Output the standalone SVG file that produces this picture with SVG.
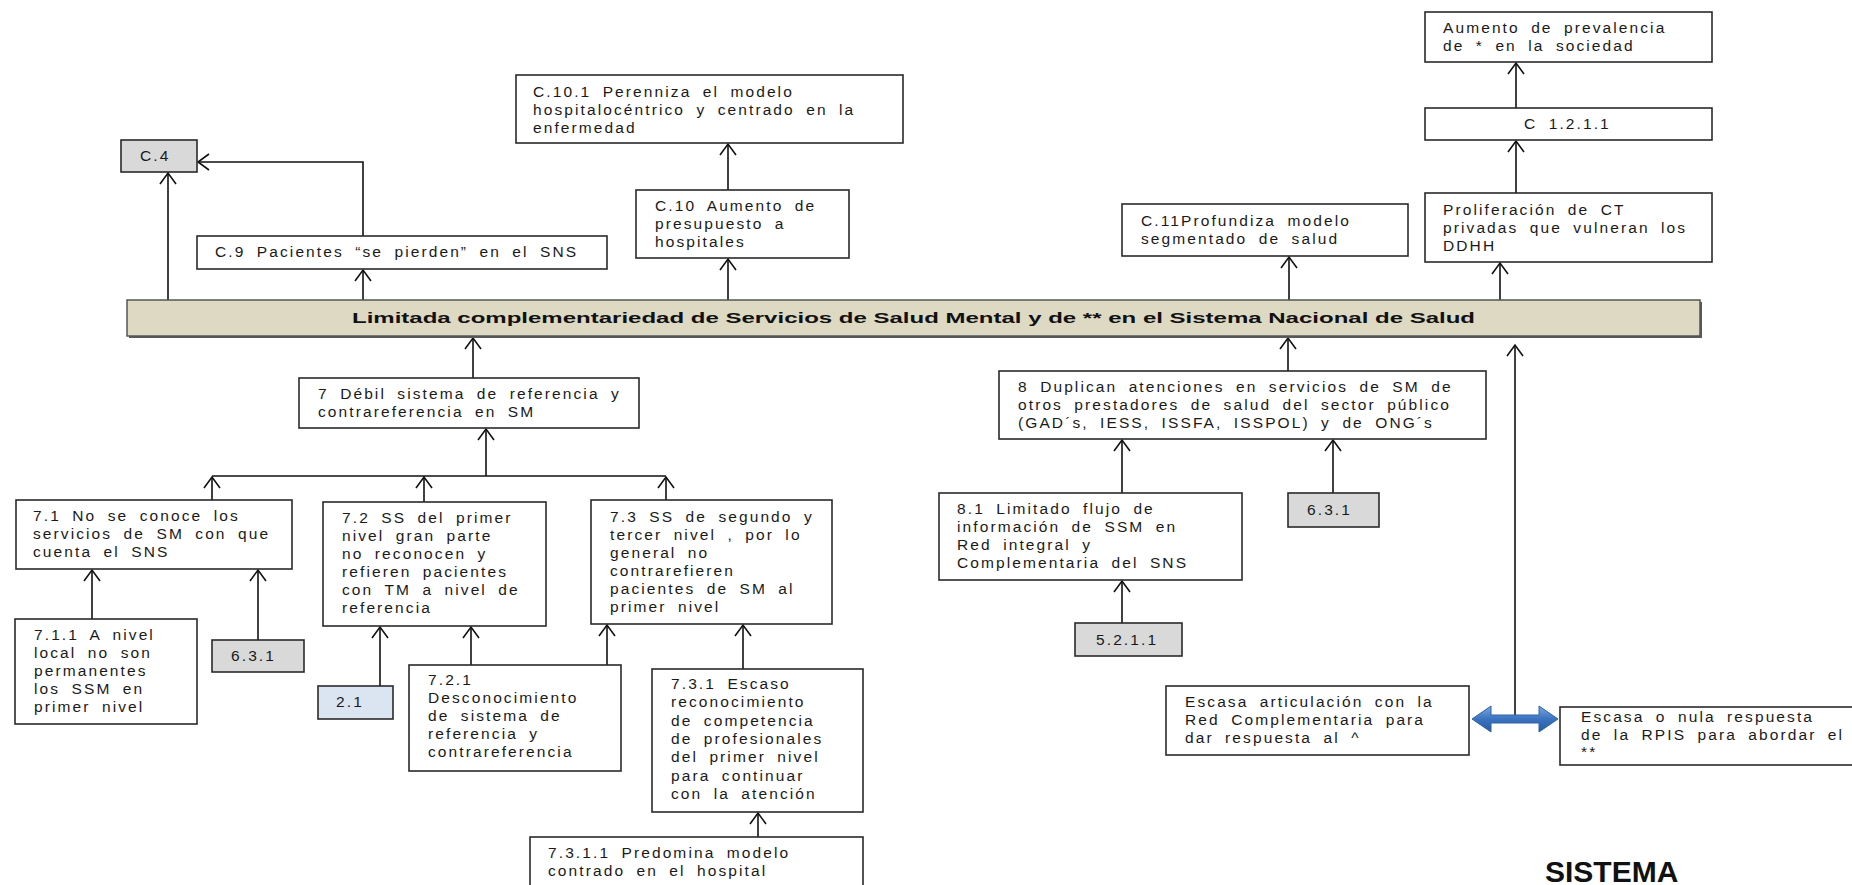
<svg xmlns="http://www.w3.org/2000/svg" width="1852" height="885" viewBox="0 0 1852 885">
<style>
.t{font-family:"Liberation Sans",Arial,sans-serif;font-size:15.5px;letter-spacing:2.1px;word-spacing:5px;fill:#1a1a1a}
.b{fill:#fff;stroke:#2a2a2a;stroke-width:1.6}
.g{fill:#d9d9d9;stroke:#2a2a2a;stroke-width:1.6}
.lb{fill:#dbe5f1;stroke:#2a2a2a;stroke-width:1.6}
.c{fill:none;stroke:#111;stroke-width:1.6}
.a{marker-end:url(#ah)}
</style>
<defs>
<marker id="ah" viewBox="-13 -10 15 20" markerWidth="15" markerHeight="20" refX="0" refY="0" orient="auto" markerUnits="userSpaceOnUse">
<path d="M-11,-8 L0,0 L-11,8" fill="none" stroke="#111" stroke-width="1.6"/>
</marker>
<linearGradient id="bl" x1="0" y1="0" x2="0" y2="1">
<stop offset="0" stop-color="#7aa7de"/>
<stop offset="0.5" stop-color="#3b73c0"/>
<stop offset="1" stop-color="#2a5a9e"/>
</linearGradient>
</defs>
<rect x="0" y="0" width="1852" height="885" fill="#fff"/>

<g id="connectors">
<path class="c a" d="M168,300 L168,173"/>
<path class="c a" d="M363,236 L363,162 L198,162"/>
<path class="c a" d="M363,300 L363,270"/>
<path class="c a" d="M728,300 L728,259"/>
<path class="c a" d="M728,190 L728,144"/>
<path class="c a" d="M1289,300 L1289,257"/>
<path class="c a" d="M1500,300 L1500,263"/>
<path class="c a" d="M1516,193 L1516,141"/>
<path class="c a" d="M1516,108 L1516,63"/>
<path class="c a" d="M473,378 L473,338"/>
<path class="c" d="M212,476 L666,476"/>
<path class="c a" d="M486,476 L486,429"/>
<path class="c a" d="M212,500 L212,477"/>
<path class="c a" d="M424,502 L424,477"/>
<path class="c a" d="M666,500 L666,477"/>
<path class="c a" d="M92,619 L92,570"/>
<path class="c a" d="M258,640 L258,570"/>
<path class="c a" d="M380,686 L380,627"/>
<path class="c a" d="M471,665 L471,627"/>
<path class="c a" d="M607,665 L607,625"/>
<path class="c a" d="M743,669 L743,625"/>
<path class="c a" d="M758,837 L758,813"/>
<path class="c a" d="M1288,371 L1288,338"/>
<path class="c a" d="M1122,493 L1122,440"/>
<path class="c a" d="M1333,493 L1333,440"/>
<path class="c a" d="M1122,623 L1122,581"/>
<path class="c a" d="M1515,718 L1515,345"/>
<path d="M1472,719 L1491,706 L1491,715 L1539,715 L1539,706 L1558,719 L1539,732 L1539,723 L1491,723 L1491,732 Z" fill="url(#bl)" stroke="#2f62a8" stroke-width="1"/>
</g>

<g id="n-banner">
<rect x="129" y="302" width="1573" height="36" fill="#5a5a5a"/>
<rect x="127" y="300" width="1573" height="36" fill="#ddd9c3" stroke="#555" stroke-width="1.5"/>
<text x="913.5" y="323" text-anchor="middle" textLength="1123" lengthAdjust="spacingAndGlyphs" style="font-family:'Liberation Sans',Arial,sans-serif;font-size:15.5px;font-weight:bold;fill:#111">Limitada complementariedad de Servicios de Salud Mental y de ** en el Sistema Nacional de Salud</text>
</g>

<g id="n-c4">
<rect class="g" x="121" y="140" width="76" height="32"/>
<text class="t" x="140" y="161">C.4</text>
</g>

<g id="n-c9">
<rect class="b" x="197" y="236" width="410" height="33"/>
<text class="t" x="215" y="257">C.9 Pacientes “se pierden” en el SNS</text>
</g>

<g id="n-c101">
<rect class="b" x="516" y="75" width="387" height="68"/>
<text class="t" x="533" y="97"><tspan x="533">C.10.1 Perenniza el modelo</tspan><tspan x="533" dy="18">hospitalocéntrico y centrado en la</tspan><tspan x="533" dy="18">enfermedad</tspan></text>
</g>

<g id="n-c10">
<rect class="b" x="636" y="190" width="213" height="68"/>
<text class="t" x="655" y="211"><tspan x="655">C.10 Aumento de</tspan><tspan x="655" dy="18">presupuesto a</tspan><tspan x="655" dy="18">hospitales</tspan></text>
</g>

<g id="n-c11">
<rect class="b" x="1122" y="204" width="286" height="52"/>
<text class="t" x="1141" y="226"><tspan x="1141">C.11Profundiza modelo</tspan><tspan x="1141" dy="18">segmentado de salud</tspan></text>
</g>

<g id="n-aumento">
<rect class="b" x="1425" y="12" width="287" height="50"/>
<text class="t" x="1443" y="33"><tspan x="1443">Aumento de prevalencia</tspan><tspan x="1443" dy="18">de * en la sociedad</tspan></text>
</g>

<g id="n-c1211">
<rect class="b" x="1425" y="108" width="287" height="32"/>
<text class="t" x="1524" y="129">C 1.2.1.1</text>
</g>

<g id="n-prolif">
<rect class="b" x="1425" y="193" width="287" height="69"/>
<text class="t" x="1443" y="215"><tspan x="1443">Proliferación de CT</tspan><tspan x="1443" dy="18">privadas que vulneran los</tspan><tspan x="1443" dy="18">DDHH</tspan></text>
</g>

<g id="n-7">
<rect class="b" x="299" y="378" width="340" height="50"/>
<text class="t" x="318" y="399"><tspan x="318">7 Débil sistema de referencia y</tspan><tspan x="318" dy="18">contrareferencia en SM</tspan></text>
</g>

<g id="n-71">
<rect class="b" x="16" y="500" width="276" height="69"/>
<text class="t" x="33" y="521"><tspan x="33">7.1 No se conoce los</tspan><tspan x="33" dy="18">servicios de SM con que</tspan><tspan x="33" dy="18">cuenta el SNS</tspan></text>
</g>

<g id="n-72">
<rect class="b" x="323" y="502" width="223" height="124"/>
<text class="t" x="342" y="523"><tspan x="342">7.2 SS del primer</tspan><tspan x="342" dy="18">nivel gran parte</tspan><tspan x="342" dy="18">no reconocen y</tspan><tspan x="342" dy="18">refieren pacientes</tspan><tspan x="342" dy="18">con TM a nivel de</tspan><tspan x="342" dy="18">referencia</tspan></text>
</g>

<g id="n-73">
<rect class="b" x="591" y="500" width="241" height="124"/>
<text class="t" x="610" y="522"><tspan x="610">7.3 SS de segundo y</tspan><tspan x="610" dy="18">tercer nivel , por lo</tspan><tspan x="610" dy="18">general no</tspan><tspan x="610" dy="18">contrarefieren</tspan><tspan x="610" dy="18">pacientes de SM al</tspan><tspan x="610" dy="18">primer nivel</tspan></text>
</g>

<g id="n-711">
<rect class="b" x="15" y="619" width="182" height="105"/>
<text class="t" x="34" y="640"><tspan x="34">7.1.1 A nivel</tspan><tspan x="34" dy="18">local no son</tspan><tspan x="34" dy="18">permanentes</tspan><tspan x="34" dy="18">los SSM en</tspan><tspan x="34" dy="18">primer nivel</tspan></text>
</g>

<g id="n-631a">
<rect class="g" x="212" y="640" width="92" height="32"/>
<text class="t" x="231" y="661">6.3.1</text>
</g>

<g id="n-21">
<rect class="lb" x="318" y="686" width="75" height="33"/>
<text class="t" x="336" y="707">2.1</text>
</g>

<g id="n-721">
<rect class="b" x="409" y="665" width="212" height="106"/>
<text class="t" x="428" y="685"><tspan x="428">7.2.1</tspan><tspan x="428" dy="18">Desconocimiento</tspan><tspan x="428" dy="18">de sistema de</tspan><tspan x="428" dy="18">referencia y</tspan><tspan x="428" dy="18">contrareferencia</tspan></text>
</g>

<g id="n-731">
<rect class="b" x="652" y="669" width="211" height="143"/>
<text class="t" x="671" y="689"><tspan x="671">7.3.1 Escaso</tspan><tspan x="671" dy="18.3">reconocimiento</tspan><tspan x="671" dy="18.3">de competencia</tspan><tspan x="671" dy="18.3">de profesionales</tspan><tspan x="671" dy="18.3">del primer nivel</tspan><tspan x="671" dy="18.3">para continuar</tspan><tspan x="671" dy="18.3">con la atención</tspan></text>
</g>

<g id="n-7311">
<rect class="b" x="530" y="837" width="333" height="60"/>
<text class="t" x="548" y="858"><tspan x="548">7.3.1.1 Predomina modelo</tspan><tspan x="548" dy="18">contrado en el hospital</tspan></text>
</g>

<g id="n-8">
<rect class="b" x="999" y="371" width="487" height="68"/>
<text class="t" x="1018" y="392"><tspan x="1018">8 Duplican atenciones en servicios de SM de</tspan><tspan x="1018" dy="18">otros prestadores de salud del sector público</tspan><tspan x="1018" dy="18">(GAD´s, IESS, ISSFA, ISSPOL) y de ONG´s</tspan></text>
</g>

<g id="n-81">
<rect class="b" x="939" y="493" width="303" height="87"/>
<text class="t" x="957" y="514"><tspan x="957">8.1 Limitado flujo de</tspan><tspan x="957" dy="18">información de SSM en</tspan><tspan x="957" dy="18">Red integral y</tspan><tspan x="957" dy="18">Complementaria del SNS</tspan></text>
</g>

<g id="n-631b">
<rect class="g" x="1288" y="493" width="91" height="34"/>
<text class="t" x="1307" y="515">6.3.1</text>
</g>

<g id="n-5211">
<rect class="g" x="1075" y="623" width="107" height="33"/>
<text class="t" x="1096" y="645">5.2.1.1</text>
</g>

<g id="n-escasa-art">
<rect class="b" x="1166" y="686" width="303" height="69"/>
<text class="t" x="1185" y="707"><tspan x="1185">Escasa articulación con la</tspan><tspan x="1185" dy="18">Red Complementaria para</tspan><tspan x="1185" dy="18">dar respuesta al ^</tspan></text>
</g>

<g id="n-escasa-resp">
<rect class="b" x="1560" y="707" width="300" height="58"/>
<text class="t" x="1581" y="722"><tspan x="1581">Escasa o nula respuesta</tspan><tspan x="1581" dy="18">de la RPIS para abordar el</tspan><tspan x="1581" dy="17">**</tspan></text>
</g>

<g id="n-sistema">
<text x="1545" y="882" style="font-family:'Liberation Sans',Arial,sans-serif;font-size:30px;font-weight:bold;fill:#111">SISTEMA</text>
</g>
</svg>
